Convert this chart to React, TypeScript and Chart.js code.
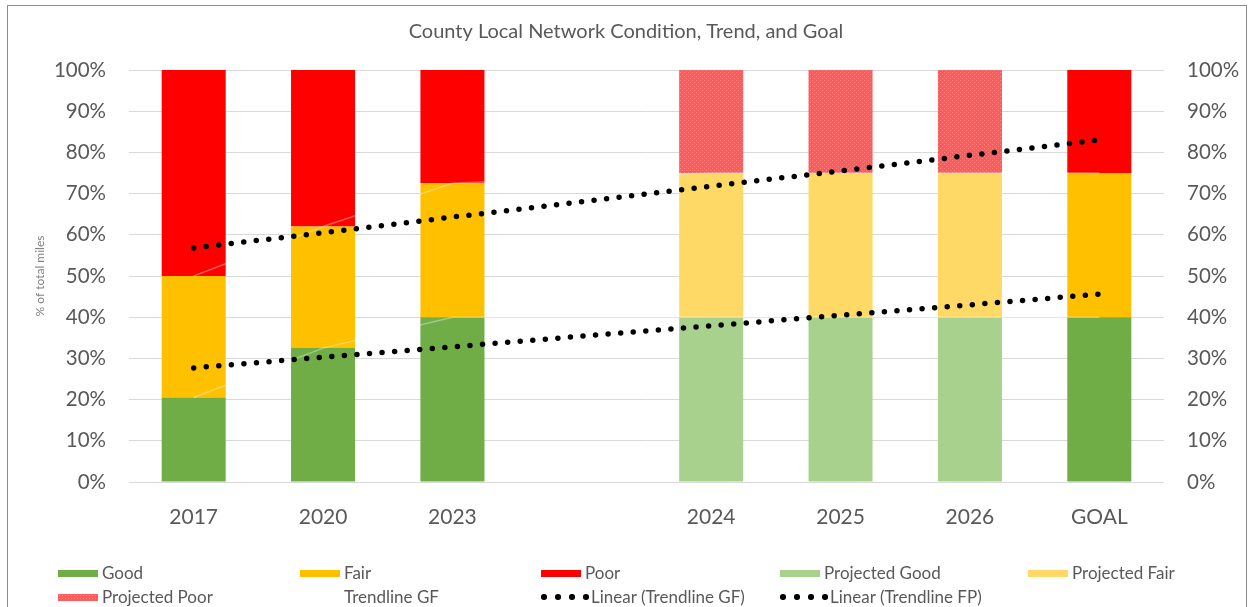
import React, { useEffect, useRef } from "react";
import { Chart, registerables } from "chart.js";

Chart.register(...registerables);

const categories = ["2017", "2020", "2023", "", "2024", "2025", "2026", "GOAL"];
const good = [20.5, 32.5, 40, null, null, null, null, 40];
const fair = [29.5, 29.5, 32.5, null, null, null, null, 35];
const poor = [50, 38, 27.5, null, null, null, null, 25];
const projectedGood = [null, null, null, null, 40, 40, 40, null];
const projectedFair = [null, null, null, null, 35, 35, 35, null];
const projectedPoor = [null, null, null, null, 25, 25, 25, null];
const trendlineGF = [20.5, 32.5, 40, null, 40, 40, 40, 40];
const trendlineFP = [50, 62, 72.5, null, 75, 75, 75, 75];
const linearGF = [27.7, 30.3, 32.8, 35.4, 37.9, 40.5, 43.0, 45.6];
const linearFP = [56.8, 60.5, 64.3, 68.0, 71.8, 75.5, 79.3, 83.0];
const yTicks = [0, 10, 20, 30, 40, 50, 60, 70, 80, 90, 100];

const FONT = "Lato, 'Open Sans', sans-serif";
const TEXT = "#595959";

function makePattern(base: string, dot: string): CanvasPattern | string {
  const c = document.createElement("canvas");
  c.width = 4;
  c.height = 4;
  const ctx = c.getContext("2d");
  if (!ctx) return base;
  ctx.fillStyle = base;
  ctx.fillRect(0, 0, 4, 4);
  ctx.fillStyle = dot;
  ctx.fillRect(0, 0, 1, 1);
  ctx.fillRect(2, 2, 1, 1);
  return ctx.createPattern(c, "repeat") || base;
}

const legendItems = [
  { label: "Good", kind: "box", color: "#70AD47", col: 0, row: 0 },
  { label: "Fair", kind: "box", color: "#FFC000", col: 1, row: 0 },
  { label: "Poor", kind: "box", color: "#FF0000", col: 2, row: 0 },
  { label: "Projected Good", kind: "box", color: "#A9D18E", col: 3, row: 0 },
  { label: "Projected Fair", kind: "box", color: "#FFD966", col: 4, row: 0 },
  { label: "Projected Poor", kind: "hatch", color: "#FF5C5C", col: 0, row: 1 },
  { label: "Trendline GF", kind: "none", color: "#FFFFFF", col: 1, row: 1 },
  { label: "Linear (Trendline GF)", kind: "dots", color: "#000000", col: 2, row: 1 },
  { label: "Linear (Trendline FP)", kind: "dots", color: "#000000", col: 3, row: 1 },
];
const legendColX = [58, 300, 541, 780, 1028];
const legendRowY = [573, 597];

export default function App() {
  const canvasRef = useRef<HTMLCanvasElement | null>(null);

  useEffect(() => {
    if (!canvasRef.current) return;
    const poorPattern = makePattern("#FF5A5A", "#FF8585");
    const chart = new Chart(canvasRef.current, {
      type: "bar",
      data: {
        labels: categories,
        datasets: [
          { type: "line", label: "Linear (Trendline GF)", data: linearGF, yAxisID: "y1", borderColor: "#000", borderWidth: 5.5, borderDash: [0, 12.6], borderCapStyle: "round", pointRadius: 0, fill: false, order: 0 } as any,
          { type: "line", label: "Linear (Trendline FP)", data: linearFP, yAxisID: "y1", borderColor: "#000", borderWidth: 5.5, borderDash: [0, 12.6], borderCapStyle: "round", pointRadius: 0, fill: false, order: 0 } as any,
          { type: "line", label: "Trendline GF", data: trendlineGF, yAxisID: "y1", borderColor: "rgba(255,255,255,0.35)", borderWidth: 1.5, pointRadius: 0, fill: false, spanGaps: true, order: 1 } as any,
          { type: "line", label: "Trendline FP", data: trendlineFP, yAxisID: "y1", borderColor: "rgba(255,255,255,0.35)", borderWidth: 1.5, pointRadius: 0, fill: false, spanGaps: true, order: 1 } as any,
          { label: "Good", data: good, backgroundColor: "#70AD47", stack: "s", order: 2 },
          { label: "Fair", data: fair, backgroundColor: "#FFC000", stack: "s", order: 2 },
          { label: "Poor", data: poor, backgroundColor: "#FF0000", stack: "s", order: 2 },
          { label: "Projected Good", data: projectedGood, backgroundColor: "#A9D18E", stack: "s", order: 2 },
          { label: "Projected Fair", data: projectedFair, backgroundColor: "#FFD966", stack: "s", order: 2 },
          { label: "Projected Poor", data: projectedPoor, backgroundColor: poorPattern as any, stack: "s", order: 2 },
        ],
      },
      options: {
        animation: false,
        responsive: false,
        maintainAspectRatio: false,
        datasets: { bar: { barPercentage: 0.495, categoryPercentage: 1 } },
        layout: { padding: { left: 0, right: 0, top: 0, bottom: 0 } },
        plugins: {
          legend: { display: false },
          tooltip: { enabled: false },
          title: {
            display: true,
            text: "County Local Network Condition, Trend, and Goal",
            color: TEXT,
            font: { family: FONT, size: 20, weight: "normal" },
            padding: { top: 20, bottom: 26 },
          },
        },
        scales: {
          x: {
            stacked: true,
            grid: { display: false, drawTicks: false },
            border: { display: false },
            ticks: { color: TEXT, font: { family: FONT, size: 21 }, padding: 23 },
            afterFit: (s: any) => { s.height = 125; },
          },
          y: {
            stacked: true,
            min: 0,
            max: 100,
            position: "left",
            afterBuildTicks: (s: any) => { s.ticks = yTicks.map((v) => ({ value: v })); },
            grid: { color: "#D9D9D9", drawTicks: false, lineWidth: 1 },
            border: { display: false },
            ticks: { color: TEXT, font: { family: FONT, size: 20.5 }, padding: 23, callback: (v: any) => v + "%" },
            title: { display: true, text: "% of total miles", color: "#7F7F7F", font: { family: FONT, size: 12 }, padding: { top: 33, bottom: 0 } },
            afterFit: (s: any) => { s.width = 129; },
          },
          y1: {
            min: 0,
            max: 100,
            position: "right",
            afterBuildTicks: (s: any) => { s.ticks = yTicks.map((v) => ({ value: v })); },
            grid: { display: false, drawTicks: false },
            border: { display: false },
            ticks: { color: TEXT, font: { family: FONT, size: 20.5 }, padding: 23, callback: (v: any) => v + "%" },
            afterFit: (s: any) => { s.width = 88; },
          },
        },
      },
    });
    return () => chart.destroy();
  }, []);

  return (
    <div style={{ position: "fixed", left: 0, top: 0, width: 1252, height: 607, overflow: "hidden", background: "#fff", fontFamily: FONT }}>
      <div style={{ position: "absolute", left: 7, top: 5, width: 1240, height: 640, border: "1px solid #8C8C8C", boxSizing: "border-box" }} />
      <canvas ref={canvasRef} width={1252} height={607} style={{ position: "absolute", left: 0, top: 0, width: 1252, height: 607 }} />
      {legendItems.map((it) => {
        const x = legendColX[it.col];
        const y = legendRowY[it.row];
        let marker: React.ReactNode = null;
        if (it.kind === "box") {
          marker = <div style={{ position: "absolute", left: 0, top: -3, width: 40, height: 7, background: it.color }} />;
        } else if (it.kind === "hatch") {
          marker = <div style={{ position: "absolute", left: 0, top: -3, width: 40, height: 7, background: it.color, backgroundImage: "radial-gradient(#FF8A8A 0.5px, transparent 0.7px)", backgroundSize: "3px 3px" }} />;
        } else if (it.kind === "dots") {
          marker = (
            <div style={{ position: "absolute", left: 0, top: -3, width: 48, height: 6, display: "flex", justifyContent: "space-between", alignItems: "center" }}>
              {[0, 1, 2, 3].map((i) => (
                <span key={i} style={{ width: 5.5, height: 5.5, borderRadius: "50%", background: "#000", display: "block" }} />
              ))}
            </div>
          );
        }
        const textLeft = it.kind === "dots" ? 50 : 44;
        return (
          <div key={it.label} style={{ position: "absolute", left: x, top: y, height: 0 }}>
            {marker}
            <span style={{ position: "absolute", left: textLeft, top: -11, fontSize: 17, lineHeight: "21px", color: TEXT, whiteSpace: "nowrap" }}>{it.label}</span>
          </div>
        );
      })}
    </div>
  );
}
